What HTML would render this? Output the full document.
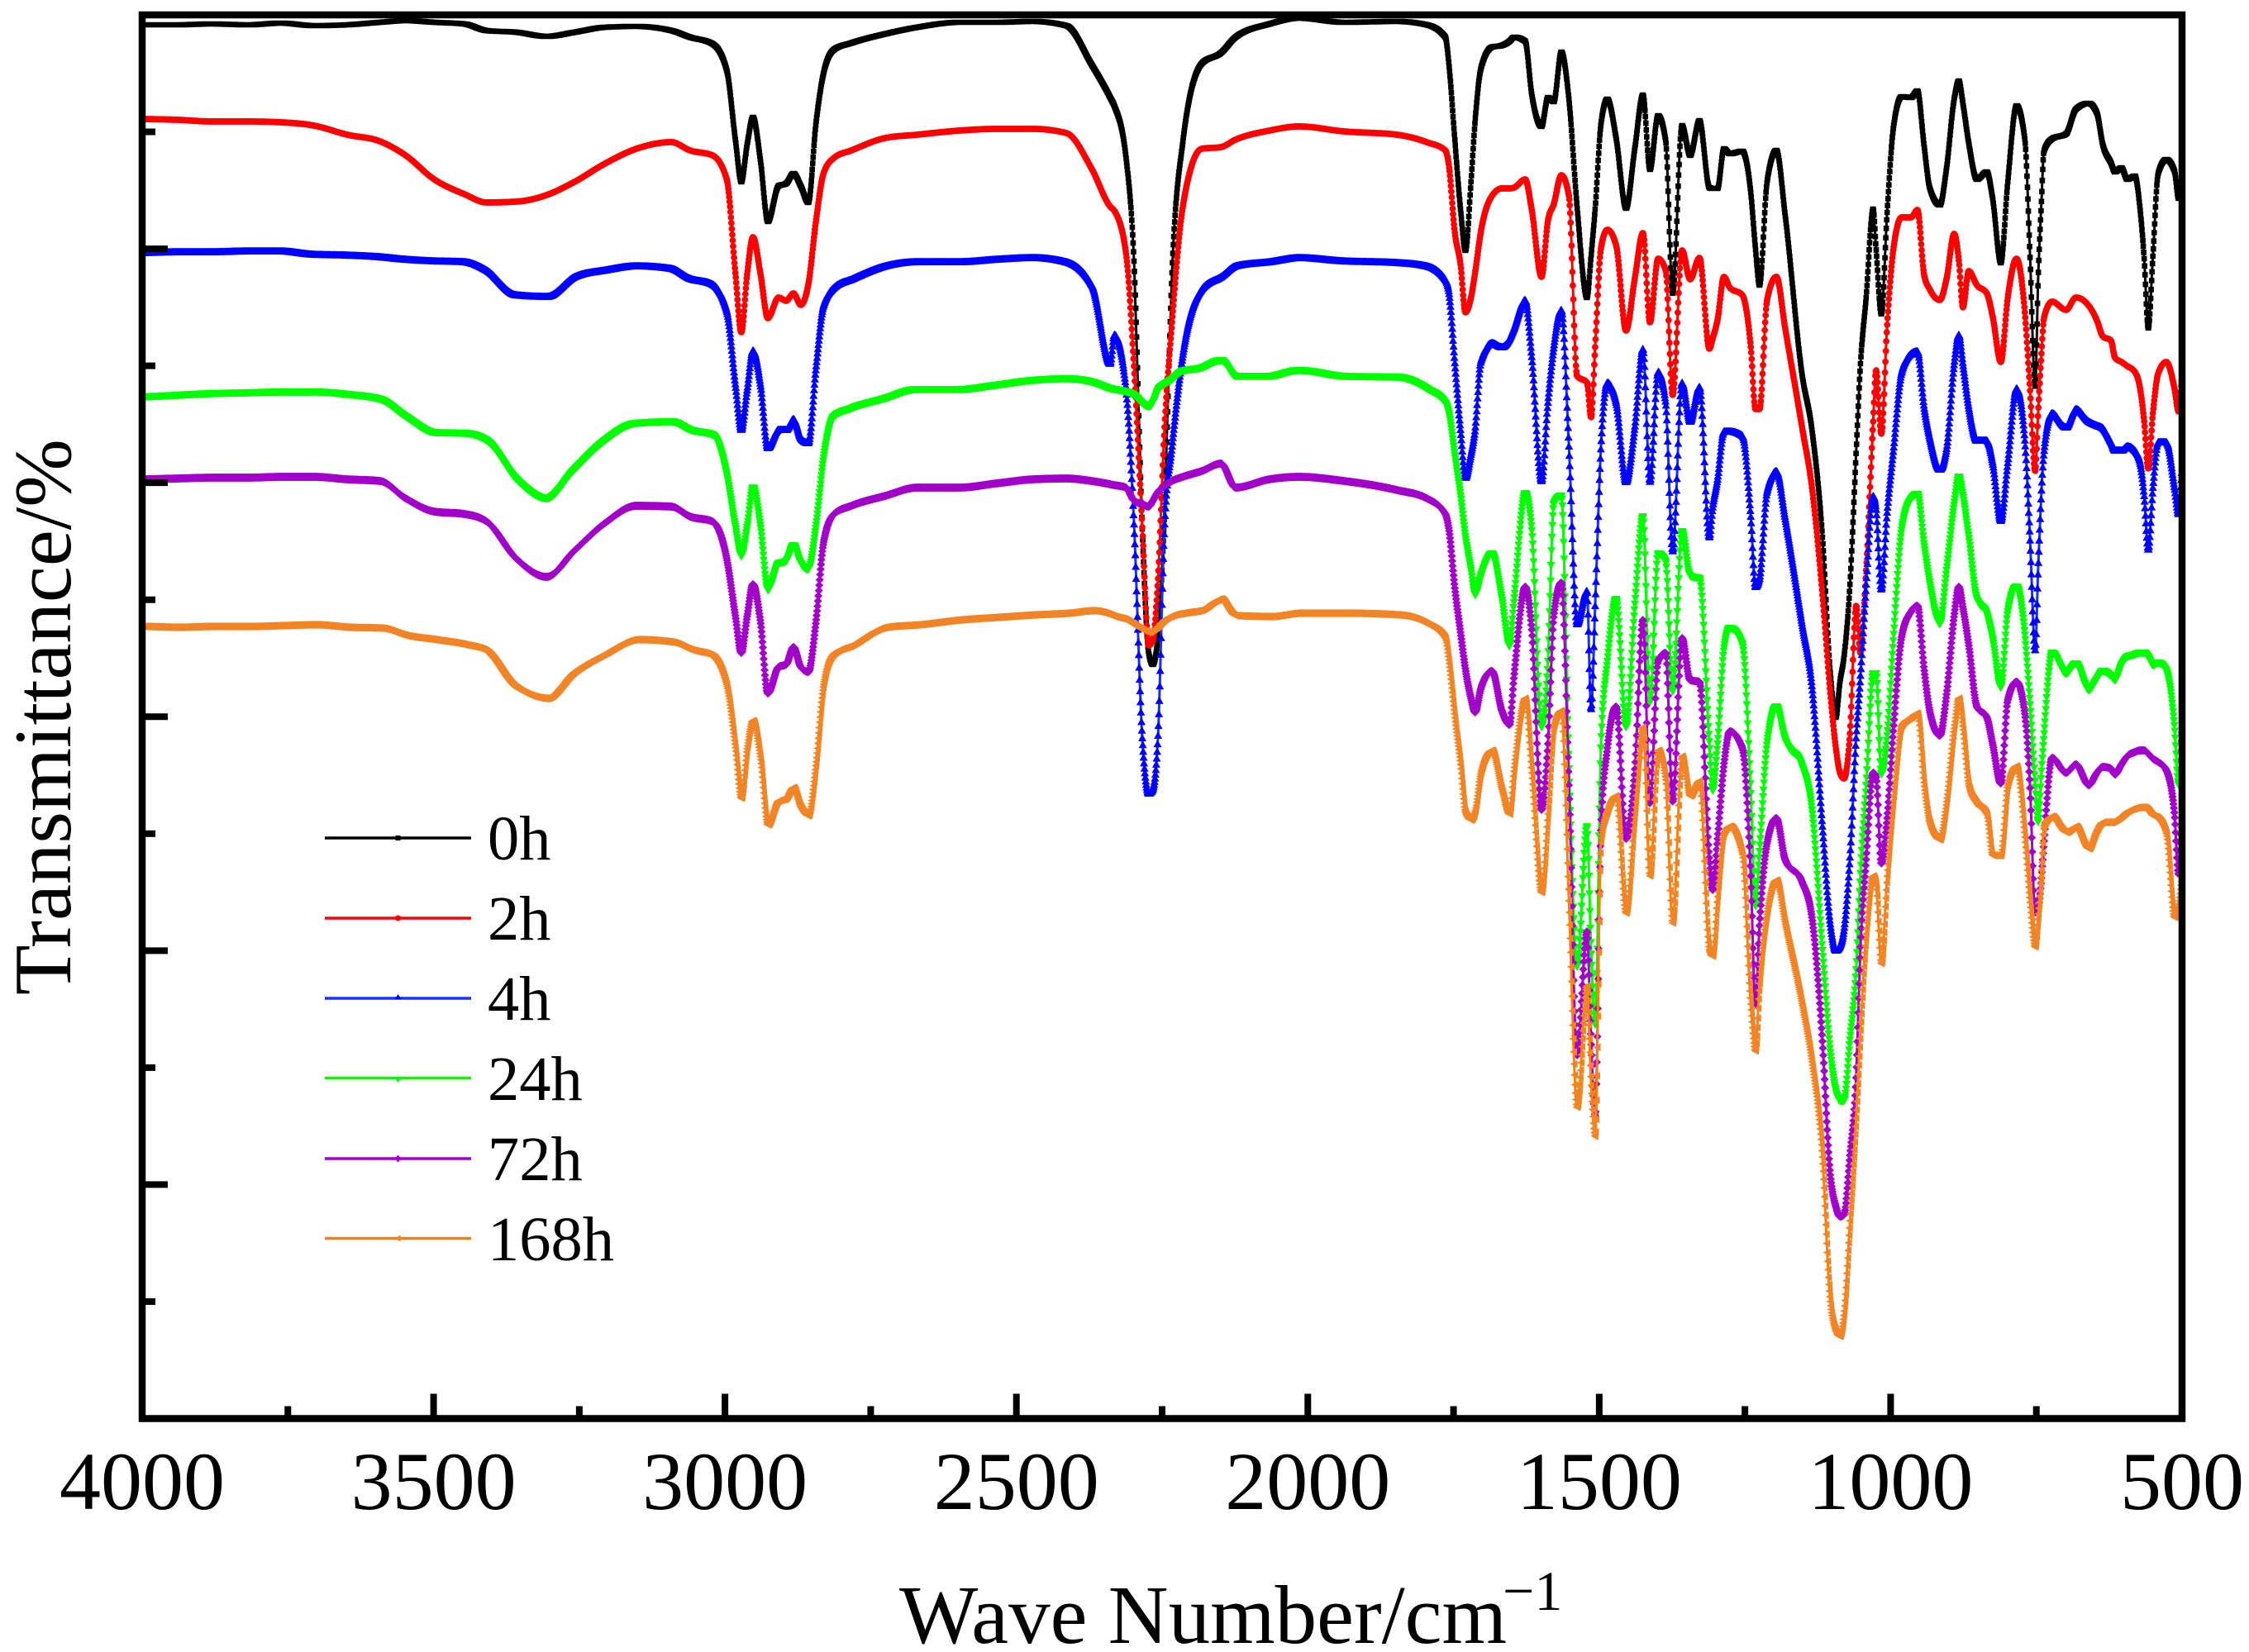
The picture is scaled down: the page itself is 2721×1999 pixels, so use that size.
<!DOCTYPE html>
<html lang="en">
<head>
<meta charset="utf-8">
<title>FTIR transmittance spectra</title>
<style>
html,body{margin:0;padding:0;background:#fff;}
svg{display:block;}
text{font-family:"Liberation Serif",serif;fill:#000;}
</style>
</head>
<body>
<svg id="chart" xmlns="http://www.w3.org/2000/svg" width="2721" height="1999" viewBox="0 0 2721 1999">
  <rect x="0" y="0" width="2721" height="1999" fill="#fff"/>
  <g id="series-layer"></g>
  <rect x="172" y="18" width="2468" height="1698.5" fill="none" stroke="#000" stroke-width="8.5"/>
  <g id="tick-layer"></g>
  <text transform="translate(85 1204) rotate(-90)" font-size="99">Transmittance/%</text>
  <text x="1088" y="1988" font-size="101">Wave Number/cm</text>
  <text x="1818" y="1948" font-size="68">−1</text>
  <g>
    <g>
      <line x1="393" x2="570" y1="1014" y2="1014" stroke="#000" stroke-width="3.5"/>
      <rect x="478.5" y="1011" width="6" height="6" fill="#000"/>
      <text x="590" y="1040" font-size="76.5">0h</text>
    </g>
    <g>
      <line x1="393" x2="570" y1="1111" y2="1111" stroke="#ff0000" stroke-width="3.5"/>
      <circle cx="481.5" cy="1111" r="3.5" fill="#ff0000"/>
      <text x="590" y="1137" font-size="76.5">2h</text>
    </g>
    <g>
      <line x1="393" x2="570" y1="1208" y2="1208" stroke="#1a30ff" stroke-width="3.5"/>
      <polygon points="481.5,1203 485.5,1209 477.5,1209" fill="#0000ff"/>
      <text x="590" y="1234" font-size="76.5">4h</text>
    </g>
    <g>
      <line x1="393" x2="570" y1="1304.5" y2="1304.5" stroke="#00ff00" stroke-width="3.5"/>
      <polygon points="477.5,1304 485.5,1304 481.5,1310" fill="#00ff00"/>
      <text x="590" y="1331" font-size="76.5">24h</text>
    </g>
    <g>
      <line x1="393" x2="570" y1="1402" y2="1402" stroke="#a000c8" stroke-width="3.5"/>
      <polygon points="481.5,1397.5 485.5,1402 481.5,1406.5 477.5,1402" fill="#a000c8"/>
      <text x="590" y="1428" font-size="76.5">72h</text>
    </g>
    <g>
      <line x1="393" x2="570" y1="1498.5" y2="1498.5" stroke="#ff8000" stroke-width="3.5"/>
      <polygon points="477.5,1498.5 484.5,1494.5 484.5,1502.5" fill="#f28428"/>
      <text x="590" y="1525" font-size="76.5">168h</text>
    </g>
  </g>
</svg>
<script>
// Shared wavenumber grid (cm-1) at the curves' features.
var wavenumbers = [
3997,3939,3882,3818,3762,3705,3648,3592,3548,3499,
3447,3409,3358,3306,3258,3206,3152,3092,3060,3021.5,
2997,2982,2972,2962,2952,2939,2926.5,2908,2895,2882.5,
2870,2857,2844,2831,2813,2783,2725,2670,2597.5,2535,
2471,2414.5,2371,2339,2332,2312,2298,2284,2273,2266,2257,
2246,2233,2214.5,2182,2149,2124,2066,2015,1938,1847,
1796,1764,1758,1748,1738,1729.5,1720,1713,1703,1684,
1667,1654,1646,1627,1616,1599,1588,1578,1565,1552,1538,
1521,1514,1507,1497,1486,1471,1454,1439,1425,1413,
1399,1386,1374,1358,1344,1328,1311,1305.5,1297,1286,1276,
1254.5,1240,1232,1225,1212,1196,1181,1152,1135,1117,1104,
1094,1087,1080,1070,1059,1052,1042,1030,1025,1016,
1006,995,981,965,954,942.5,933,915.5,904,891,
883,876,866,852,835,825,811,799,784,769.5,
761,752,747,741,737,723,699,682,660,646,
636,622,615,604,594,581,572,565,558,550,
541,527,513,506,500
];
// Offset transmittance in arbitrary stacked units (axis has no printed values; larger = lower on the chart).
var offset0h = [
30,30,29,30,28,31,30,27,25,27,
29,37,39,44,39,33,32,37,45,53,
85,170,220,175,142,195,268,225,222,210,
225,245,150,89,60,52,41,33,27,27,
26,31,78,118,128,190,320,640,790,804,770,
620,330,172,77,64,45,29,22,27,26,
30,45,77,167,253,303,220,147,83,57,
55,50,45,50,113,153,118,123,63,120,250,
360,310,253,150,120,167,252,180,115,205,
140,170,355,152,188,146,227,228,228,180,186,
183,233,300,345,220,182,260,453,520,650,810,
868,825,795,710,545,443,360,253,300,380,
257,153,117,118,110,177,227,248,203,120,
98,125,173,217,208,240,318,220,128,170,
307,468,340,240,183,168,162,132,125,137,
175,197,208,203,217,213,253,313,397,310,
210,193,207,240,230
];
var offset2h = [
144,145,147,147,148,152,163,171,188,217,
235,245,244,236,220,198,180,172,182,188,
217,332,402,332,287,332,385,360,364,355,
369,344,268,210,191,182,167,163,158,156,
156,161,204,250,255,306,446,638,781,775,700,
520,390,250,180,178,169,158,153,159,163,
172,182,200,280,320,378,360,330,280,237,
228,228,227,217,253,335,267,247,212,237,455,
463,505,420,300,278,297,400,337,282,390,
313,327,478,303,338,312,422,410,387,335,348,
357,420,495,495,363,335,397,517,590,720,835,
905,935,942,890,733,790,690,510,448,525,
393,300,263,263,254,333,350,363,337,283,
315,372,328,345,355,383,438,360,313,380,
470,570,500,425,385,365,375,360,370,388,
407,412,433,438,443,450,470,510,567,500,
452,438,470,498,457
];
var offset4h = [
306,305,305,304,304,308,309,311,314,316,
317,327,357,359,335,327,322,325,337,344,
376,466,520,472,424,466,542,520,520,507,
530,536,446,370,348,338,322,317,317,314,
312,317,344,440,405,470,638,893,960,955,890,
638,540,430,350,335,322,317,312,316,318,
322,338,353,437,520,578,550,520,437,415,
420,410,397,363,430,582,487,420,375,540,755,
715,858,733,540,463,487,583,517,422,583,
450,487,667,463,510,468,650,615,580,522,522,
527,625,710,700,595,570,627,755,830,1000,1115,
1150,1145,1125,1040,890,820,707,600,615,713,
620,543,450,428,425,493,530,568,543,440,
405,440,493,533,533,560,630,560,470,535,
650,787,690,590,547,500,517,495,510,515,
518,535,545,545,540,545,560,600,665,590,
535,535,590,622,567
];
var offset24h = [
480,478,476,475,474,474,477,483,504,523,
524,533,580,603,568,533,512,510,520,526,
574,638,673,638,590,638,714,682,679,660,
682,689,638,555,504,494,482,471,471,466,
460,458,462,470,471,474,478,488,492,488,472,
465,459,449,445,436,455,455,448,455,456,
470,488,500,550,600,650,690,720,697,670,
725,782,725,597,640,880,800,610,600,930,1170,
1000,1150,1240,900,800,725,880,733,625,850,
670,680,837,643,697,700,900,957,900,785,760,
780,960,1097,1030,900,855,895,927,980,1150,1270,
1320,1332,1332,1260,1170,1060,950,815,815,937,
890,770,640,604,598,660,705,755,690,610,
577,600,650,725,743,773,832,740,710,770,
850,950,995,930,890,790,815,803,835,822,
812,818,823,805,795,792,790,790,795,805,
802,812,880,950,883
];
var offset72h = [
580,579,578,578,577,577,580,582,603,619,
622,631,676,698,666,633,612,613,625,631,
676,746,790,746,707,753,839,807,804,783,
807,813,753,657,622,612,600,590,590,585,
580,579,582,586,587,590,606,610,613,606,595,
588,582,577,570,561,590,580,577,582,593,
603,622,640,710,765,810,845,862,833,812,
860,877,817,710,760,980,900,745,705,950,1277,
1127,1260,1350,1000,905,855,1015,933,750,972,
800,790,970,772,823,825,1040,1077,1015,925,885,
905,1060,1215,1120,1020,990,1040,1067,1110,1260,1418,
1460,1472,1470,1400,1300,1150,1040,935,940,1045,
990,880,770,740,733,810,860,890,840,745,
710,735,780,855,868,900,948,847,825,865,
950,1104,1100,1060,1020,917,935,925,950,935,
928,930,937,925,915,910,908,908,912,918,
922,932,985,1058,995
];
var offset168h = [
758,759,758,758,757,756,759,760,769,774,
780,788,832,845,813,791,774,777,786,794,
829,906,966,906,872,918,998,969,966,953,
976,987,925,829,791,781,759,756,750,747,
744,742,739,744,746,750,756,762,765,762,758,
750,745,742,738,725,745,746,742,742,744,
755,772,800,867,925,983,992,982,935,908,
955,985,930,845,933,1080,985,880,860,1090,1340,
1193,1310,1375,1017,982,963,1105,985,880,1060,
908,945,1117,915,963,945,1150,1157,1085,1008,1000,
1033,1215,1272,1190,1105,1065,1117,1215,1285,1400,1571,
1610,1617,1590,1480,1350,1250,1130,1060,1070,1166,
1060,965,878,868,863,950,995,1016,970,880,
845,880,950,972,985,1035,1035,950,927,1015,
1090,1146,1110,1050,1000,988,1007,1000,1027,1005,
995,995,993,988,982,978,977,977,980,987,
990,1008,1110,1095,1058
];
var seriesNames = ['0h','2h','4h','24h','72h','168h'];
var xTickLabels = ['4000','3500','3000','2500','2000','1500','1000','500'];

var SVG_NS = 'http://www.w3.org/2000/svg';
var plot = {left:172, right:2640, top:18, bottom:1716.5};
var xDomain = [4000, 500];
var yDomain = [1716.5, 18];
var markerSpacing = 0.75; // cm-1 between markers along each curve
var seriesColors = {'0h':'#000000','2h':'#ff0000','4h':'#0000ff','24h':'#00ff00','72h':'#a000c8','168h':'#f28428'};
var lineColors = {'0h':'#000000','2h':'#ff0000','4h':'#1a30ff','24h':'#00ff00','72h':'#a000c8','168h':'#ff8000'};
var seriesValues = {'0h':offset0h,'2h':offset2h,'4h':offset4h,'24h':offset24h,'72h':offset72h,'168h':offset168h};

function xScale(w){ return plot.left + (w - xDomain[0]) / (xDomain[1] - xDomain[0]) * (plot.right - plot.left); }
function yScale(v){ return plot.bottom + (v - yDomain[0]) / (yDomain[1] - yDomain[0]) * (plot.top - plot.bottom); }

// Monotone cubic tangents: rounds peaks and valleys without overshooting the read values.
function monotoneTangents(xs, ys){
  var n = xs.length, s = [], t = [];
  for (var i = 0; i < n - 1; i++) s[i] = (ys[i+1] - ys[i]) / (xs[i+1] - xs[i]);
  t[0] = s[0]; t[n-1] = s[n-2];
  for (var j = 1; j < n - 1; j++) {
    var h0 = xs[j] - xs[j-1], h1 = xs[j+1] - xs[j];
    var p = (s[j-1] * h1 + s[j] * h0) / (h0 + h1);
    var sg = (Math.sign(s[j-1]) + Math.sign(s[j]));
    t[j] = sg * Math.min(Math.abs(s[j-1]), Math.abs(s[j]), 0.5 * Math.abs(p));
  }
  return t;
}
var markerShapes = {
  '0h': function(x,y){ return 'M'+(x-3.3).toFixed(1)+' '+(y-3.3).toFixed(1)+'h6.6v6.6h-6.6z'; },
  '2h': function(x,y){ return 'M'+(x-3.9).toFixed(1)+' '+y.toFixed(1)+'a3.9 3.9 0 1 0 7.8 0a3.9 3.9 0 1 0 -7.8 0z'; },
  '4h': function(x,y){ return 'M'+x.toFixed(1)+' '+(y-5).toFixed(1)+'l5 9h-10z'; },
  '24h': function(x,y){ return 'M'+x.toFixed(1)+' '+(y+5).toFixed(1)+'l5 -9h-10z'; },
  '72h': function(x,y){ return 'M'+x.toFixed(1)+' '+(y-5).toFixed(1)+'l5 5l-5 5l-5 -5z'; },
  '168h': function(x,y){ return 'M'+(x-5).toFixed(1)+' '+y.toFixed(1)+'l9 -4.7v9.4z'; }
};

var seriesLayer = document.getElementById('series-layer');
seriesNames.forEach(function(name){
  var values = seriesValues[name];
  var xs = wavenumbers.map(xScale);
  var ys = values.map(yScale);
  var t = monotoneTangents(xs, ys);
  var d = 'M' + xs[0].toFixed(1) + ' ' + ys[0].toFixed(1);
  for (var i = 0; i < xs.length - 1; i++) {
    var h = (xs[i+1] - xs[i]) / 3;
    d += 'C' + (xs[i] + h).toFixed(1) + ' ' + (ys[i] + h * t[i]).toFixed(1) + ' ' +
         (xs[i+1] - h).toFixed(1) + ' ' + (ys[i+1] - h * t[i+1]).toFixed(1) + ' ' +
         xs[i+1].toFixed(1) + ' ' + ys[i+1].toFixed(1);
  }
  var line = document.createElementNS(SVG_NS,'path');
  line.setAttribute('d', d);
  line.setAttribute('fill','none');
  line.setAttribute('stroke', lineColors[name]);
  line.setAttribute('stroke-width', '3');
  line.setAttribute('stroke-linejoin','round');
  
  
  seriesLayer.appendChild(line);

  var md = '', seg = 0, shape = markerShapes[name];
  for (var w = wavenumbers[0]; w >= wavenumbers[wavenumbers.length - 1]; w -= markerSpacing) {
    var px = xScale(w);
    while (seg < xs.length - 2 && px > xs[seg+1]) seg++;
    var hh = xs[seg+1] - xs[seg], u = (px - xs[seg]) / hh, u2 = u * u, u3 = u2 * u;
    var py = (2*u3 - 3*u2 + 1) * ys[seg] + (u3 - 2*u2 + u) * hh * t[seg] +
             (3*u2 - 2*u3) * ys[seg+1] + (u3 - u2) * hh * t[seg+1];
    md += shape(px, py);
  }
  var markers = document.createElementNS(SVG_NS,'path');
  markers.setAttribute('d', md);
  markers.setAttribute('fill', seriesColors[name]);
  
  
  seriesLayer.appendChild(markers);
});

var tickLayer = document.getElementById('tick-layer');
function addTick(x1,y1,x2,y2,label){
  var t = document.createElementNS(SVG_NS,'line');
  t.setAttribute('x1',x1); t.setAttribute('y1',y1);
  t.setAttribute('x2',x2); t.setAttribute('y2',y2);
  t.setAttribute('stroke','#000');
  t.setAttribute('stroke-width','8');
  
  
  tickLayer.appendChild(t);
}
// x axis: major tick every 500, minor every 250
for (var w = 4000; w >= 500; w -= 250) {
  var isMajor = (w % 500 === 0);
  if (w !== 4000 && w !== 500) {
    addTick(xScale(w), plot.bottom, xScale(w), plot.bottom - (isMajor ? 30 : 15), isMajor ? 'x-major-tick' : 'x-minor-tick');
  }
}
xTickLabels.forEach(function(lbl){
  var lab = document.createElementNS(SVG_NS,'text');
  lab.setAttribute('x', xScale(parseFloat(lbl)));
  lab.setAttribute('y', 1826);
  lab.setAttribute('font-size', 100);
  lab.setAttribute('text-anchor','middle');
  lab.textContent = lbl;
  
  
  tickLayer.appendChild(lab);
});
// y axis: twelve equal intervals, unlabeled, alternating minor / major
var yIntervals = 12;
for (var k = 1; k < yIntervals; k++) {
  var v = yDomain[0] + (yDomain[1] - yDomain[0]) * k / yIntervals;
  var major = (k % 2 === 0);
  addTick(plot.left, yScale(v), plot.left + (major ? 31 : 16), yScale(v), major ? 'y-major-tick' : 'y-minor-tick');
}
</script>
</body>
</html>
